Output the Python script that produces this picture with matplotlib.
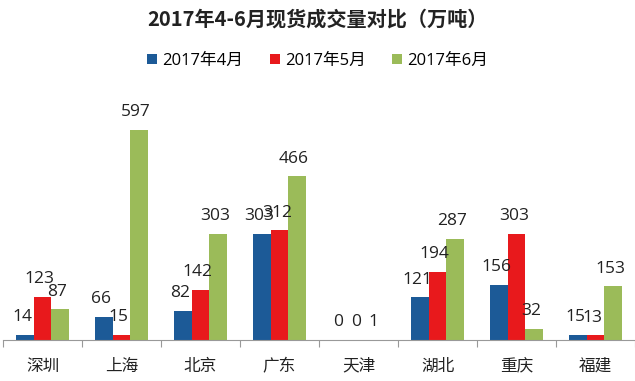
import matplotlib
matplotlib.use("Agg")
import matplotlib.pyplot as plt
import numpy as np

plt.rcParams["font.family"] = ["Open Sans", "Noto Sans CJK SC", "DejaVu Sans"]

cities = ["深圳", "上海", "北京", "广东", "天津", "湖北", "重庆", "福建"]
series_names = ["2017年4月", "2017年5月", "2017年6月"]
apr = [14, 66, 82, 303, 0, 121, 156, 15]
may = [123, 15, 142, 312, 0, 194, 303, 13]
jun = [87, 597, 303, 466, 1, 287, 32, 153]
colors = ["#1c5a97", "#e8191c", "#9bbb59"]

fig = plt.figure(figsize=(6.35, 3.81), dpi=100)
ax = fig.add_axes([3 / 635, 41 / 381, 632 / 635, 246 / 381])

x = np.arange(len(cities))
w = 0.22
for i, (vals, name, c) in enumerate(zip([apr, may, jun], series_names, colors)):
    pos = x + (i - 1) * w
    ax.bar(pos, vals, width=w, color=c, label=name)
    for p, v in zip(pos, vals):
        ax.annotate(str(v), (p, v), xytext=(-2, 7), textcoords="offset points",
                    ha="center", va="bottom", fontsize=12.5, color="#222222")

ax.set_xlim(-0.5, len(cities) - 0.5)
ax.set_ylim(0, 700)
ax.set_yticks([])
for s in ["top", "right", "left"]:
    ax.spines[s].set_visible(False)
ax.spines["bottom"].set_color("#999999")
ax.set_xticks(np.arange(len(cities) + 1) - 0.5)
ax.set_xticklabels([])
ax.tick_params(axis="x", length=5, color="#999999", direction="out")
for xi, name in zip(x, cities):
    ax.annotate(name, (xi, 0), xytext=(0, -19), textcoords="offset points",
                ha="center", va="center", fontsize=12, color="#222222",
                family=["Noto Sans CJK SC"], annotation_clip=False)

fig.text(0.5, 1 - 19 / 381, "2017年4-6月现货成交量对比（万吨）", ha="center",
         va="center", fontsize=14.5, fontweight="bold", color="#222222",
         family=["Noto Sans CJK SC"])
fig.legend(loc="center", bbox_to_anchor=(0.5, 1 - 61 / 381), ncol=3,
           frameon=False, fontsize=12, handlelength=0.6, handleheight=0.6,
           handletextpad=0.3, columnspacing=1.6)

fig.savefig("out.png", dpi=100)
